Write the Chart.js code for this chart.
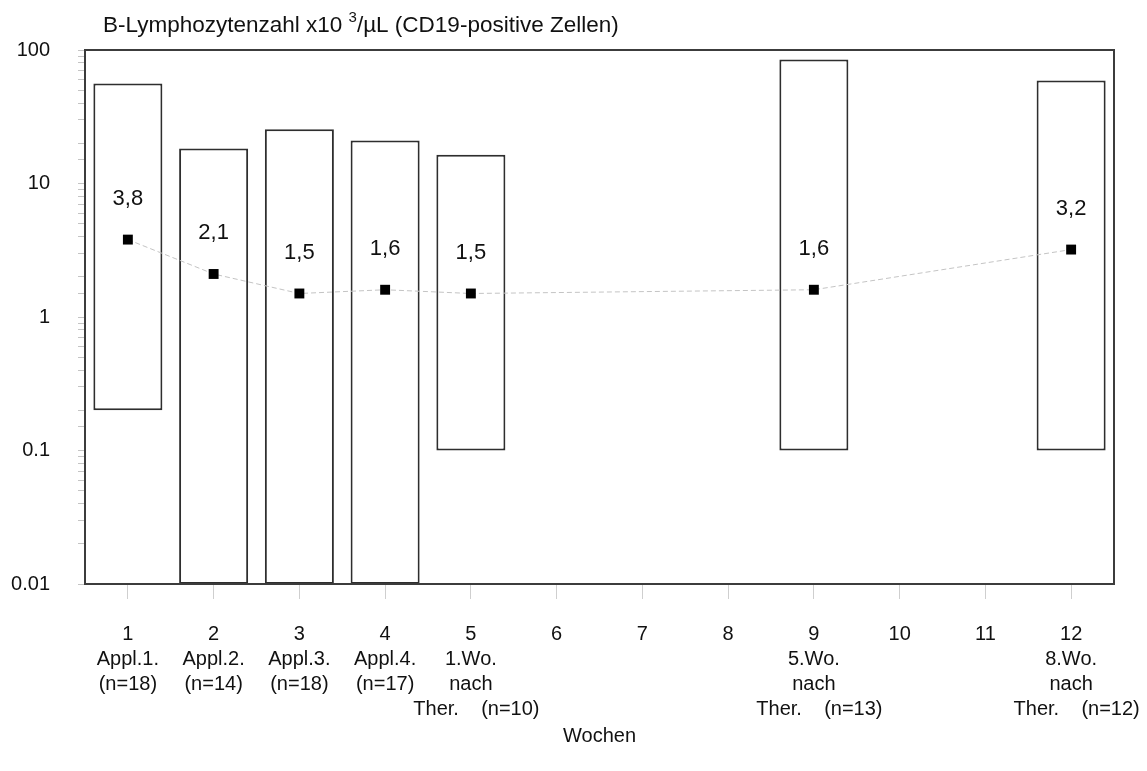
<!DOCTYPE html>
<html>
<head>
<meta charset="utf-8">
<script src="https://cdn.jsdelivr.net/npm/chart.js@4"></script>
<style>
  html, body { margin: 0; padding: 0; background: #fff; }
  #wrap { width: 1147px; height: 771px; position: relative; }
  canvas { display: block; }
</style>
</head>
<body>
<div id="wrap"><canvas id="chart" width="1147" height="771"></canvas></div>
<script>
// Week numbers on the x axis with their sub-captions (one array per tick)
const weekLabels = [
  ['1', 'Appl.1.', '(n=18)'],
  ['2', 'Appl.2.', '(n=14)'],
  ['3', 'Appl.3.', '(n=18)'],
  ['4', 'Appl.4.', '(n=17)'],
  ['5', '1.Wo.', 'nach', '  Ther.    (n=10)'],
  ['6'],
  ['7'],
  ['8'],
  ['9', '5.Wo.', 'nach', '  Ther.    (n=13)'],
  ['10'],
  ['11'],
  ['12', '8.Wo.', 'nach', '  Ther.    (n=12)']
];

// Range per week (minimum, maximum), null where no measurement
const rangeMin = [0.2, 0.01, 0.01, 0.01, 0.1, null, null, null, 0.1, null, null, 0.1];
const rangeMax = [56, 18.3, 25.5, 21, 16.4, null, null, null, 85, null, null, 59];

// Median per week
const medianValues = [3.8, 2.1, 1.5, 1.6, 1.5, null, null, null, 1.6, null, null, 3.2];

// Decade labels on the logarithmic y axis
const yTickLabels = ['0.01', '0.1', '1', '10', '100'];
const yMin = 0.01;
const yMax = 100;

const titleMain = 'B-Lymphozytenzahl x10 ';
const titleSup = '3';
const titleRest = '/µL (CD19-positive Zellen)';
const xTitle = 'Wochen';

const FONT = '"Liberation Sans", Arial, Helvetica, sans-serif';

const rangeData = rangeMin.map((lo, i) => (lo === null ? null : [lo, rangeMax[i]]));

// Headline with superscript exponent
const headline = {
  id: 'headline',
  afterDraw(chart) {
    const ctx = chart.ctx;
    ctx.save();
    ctx.fillStyle = '#111';
    ctx.textBaseline = 'alphabetic';
    ctx.textAlign = 'left';
    let x = 103;
    const base = 32;
    ctx.font = '22.5px ' + FONT;
    ctx.fillText(titleMain, x, base);
    x += ctx.measureText(titleMain).width;
    ctx.font = '15px ' + FONT;
    ctx.fillText(titleSup, x, base - 10);
    x += ctx.measureText(titleSup).width;
    ctx.font = '22.5px ' + FONT;
    ctx.fillText(titleRest, x, base);
    ctx.restore();
  }
};

// Frame around the plotting area
const plotFrame = {
  id: 'plotFrame',
  afterDatasetsDraw(chart) {
    const { ctx, chartArea: a } = chart;
    ctx.save();
    ctx.strokeStyle = '#3c3c3c';
    ctx.lineWidth = 2;
    ctx.strokeRect(a.left, a.top, a.right - a.left, a.bottom - a.top);
    ctx.restore();
  }
};

// Median values written above each marker
const medianText = {
  id: 'medianText',
  afterDatasetsDraw(chart) {
    const meta = chart.getDatasetMeta(1);
    const ctx = chart.ctx;
    ctx.save();
    ctx.font = '22px ' + FONT;
    ctx.fillStyle = '#111';
    ctx.textAlign = 'center';
    ctx.textBaseline = 'middle';
    meta.data.forEach((pt, i) => {
      const v = medianValues[i];
      if (v === null || v === undefined) return;
      ctx.fillText(v.toFixed(1).replace('.', ','), pt.x, pt.y - 41);
    });
    ctx.restore();
  }
};

new Chart(document.getElementById('chart'), {
  data: {
    labels: weekLabels,
    datasets: [
      {
        type: 'bar',
        data: rangeData,
        backgroundColor: '#ffffff',
        borderColor: '#2e2e2e',
        borderWidth: 2,
        borderSkipped: false,
        barPercentage: 0.805,
        categoryPercentage: 1,
        order: 1
      },
      {
        type: 'line',
        data: medianValues,
        spanGaps: true,
        borderColor: '#c4c4c4',
        borderWidth: 1,
        borderDash: [5, 3],
        pointStyle: 'rect',
        pointRadius: 7,
        pointBackgroundColor: '#000',
        pointBorderColor: '#000',
        pointBorderWidth: 0,
        order: 0
      }
    ]
  },
  options: {
    responsive: false,
    animation: false,
    devicePixelRatio: 1,
    layout: { padding: { left: 11, right: 33, top: 50, bottom: 23 } },
    plugins: {
      legend: { display: false },
      tooltip: { enabled: false },
      title: { display: false }
    },
    scales: {
      x: {
        type: 'category',
        offset: true,
        border: { display: false },
        afterFit(scale) {
          scale.paddingLeft = 0;
          scale.paddingRight = 0;
          scale.height = 164;
        },
        grid: {
          offset: false,
          drawOnChartArea: false,
          drawTicks: true,
          tickLength: 15,
          color: '#cfcfcf',
          lineWidth: 1
        },
        ticks: {
          color: '#111',
          font: { family: FONT, size: 20, lineHeight: 1.25 },
          padding: 23,
          maxRotation: 0,
          autoSkip: false
        },
        title: {
          display: true,
          text: xTitle,
          color: '#111',
          font: { family: FONT, size: 20, lineHeight: 1.2 },
          padding: { top: 4, bottom: 0 }
        }
      },
      y: {
        type: 'logarithmic',
        min: yMin,
        max: yMax,
        border: { display: false },
        afterFit(scale) {
          scale.width = 74;
        },
        grid: {
          drawOnChartArea: false,
          drawTicks: true,
          tickLength: 7,
          color: '#c4c4c4',
          lineWidth: 1
        },
        ticks: {
          color: '#111',
          font: { family: FONT, size: 20 },
          padding: 28,
          autoSkip: false,
          callback(value) {
            const e = Math.log10(value);
            const r = Math.round(e);
            if (Math.abs(e - r) > 1e-6) return '';
            return yTickLabels[r + 2] ?? '';
          }
        }
      }
    }
  },
  plugins: [headline, plotFrame, medianText]
});
</script>
</body>
</html>
